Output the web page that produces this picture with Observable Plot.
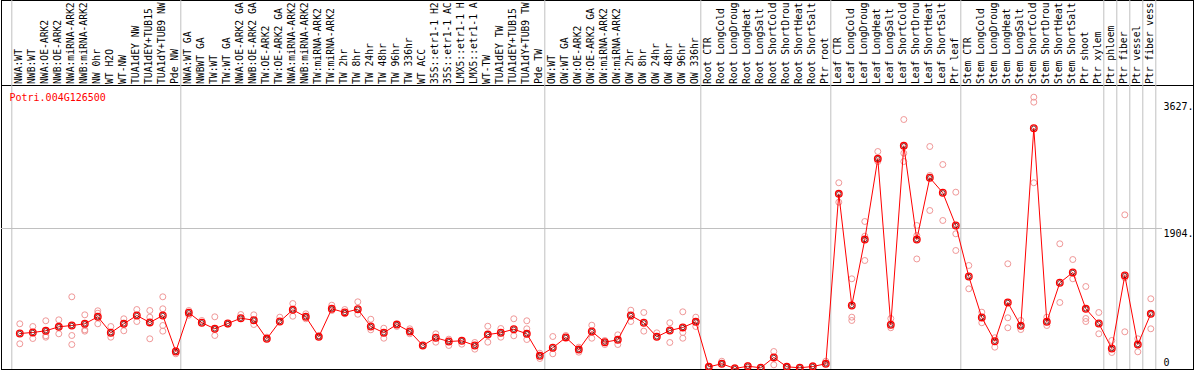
<!DOCTYPE html>
<html>
<head>
<meta charset="utf-8">
<script src="https://cdn.jsdelivr.net/npm/d3@7"></script>
<script src="https://cdn.jsdelivr.net/npm/@observablehq/plot@0.6"></script>
<style>
  html, body { margin: 0; padding: 0; background: #fff; }
  #chart svg { display: block; }
</style>
</head>
<body>
<div id="chart"></div>
<script>
const geneId = "Potri.004G126500";

// sample labels as they are visible (the reference cuts them at 14 characters)
const samples = [
  "NWA:WT","NWB:WT","NWA:OE-ARK2","NWB:OE-ARK2","NWA:miRNA-ARK2","NWB:miRNA-ARK2","NW 0hr","WT H2O","WT-NW","TUA1dEY NW","TUA1dEY+TUB15","TUA1dY+TUB9 NW","Pde NW",
  "NWA:WT GA","NWBWT GA","TW:WT","TW:WT GA","NWA:OE-ARK2 GA","NWB:OE-ARK2 GA","TW:OE-ARK2","TW:OE-ARK2 GA","NWA:miRNA-ARK2","NWB:miRNA-ARK2","TW:miRNA-ARK2","TW:miRNA-ARK2","TW 2hr","TW 8hr","TW 24hr","TW 48hr","TW 96hr","TW 336hr","WT ACC","35S::etr1-1 H2","35S::etr1-1 AC","LMX5::etr1-1 H","LMX5::etr1-1 A","WT-TW","TUA1dEY TW","TUA1dEY+TUB15","TUA1dY+TUB9 TW","Pde TW",
  "OW:WT","OW:WT GA","OW:OE-ARK2","OW:OE-ARK2 GA","OW:miRNA-ARK2","OW:miRNA-ARK2","OW 2hr","OW 8hr","OW 24hr","OW 48hr","OW 96hr","OW 336hr",
  "Root CTR","Root LongCold","Root LongDroug","Root LongHeat","Root LongSalt","Root ShortCold","Root ShortDrou","Root ShortHeat","Root ShortSalt","Ptr root",
  "Leaf CTR","Leaf LongCold","Leaf LongDroug","Leaf LongHeat","Leaf LongSalt","Leaf ShortCold","Leaf ShortDrou","Leaf ShortHeat","Leaf ShortSalt","Ptr leaf",
  "Stem CTR","Stem LongCold","Stem LongDroug","Stem LongHeat","Stem LongSalt","Stem ShortCold","Stem ShortDrou","Stem ShortHeat","Stem ShortSalt","Ptr shoot",
  "Ptr xylem","Ptr phloem","Ptr fiber","Ptr vessel","Ptr fiber vess"
];

// index where each separated block starts (plus the end)
const groupBreaks = [0, 13, 41, 53, 63, 73, 84, 85, 86, 87, 88];

const means = [
  476,490,513,567,585,608,703,486,608,721,626,721,231,
  758,622,540,612,684,657,404,639,798,703,431,812,762,806,571,486,598,503,313,418,367,377,313,462,486,534,472,173,
  282,422,258,503,358,390,721,622,431,517,558,635,
  23,64,0,31,10,150,23,10,27,64,
  2376,857,1754,2852,594,3029,1754,2594,2390,1945,
  1251,694,371,898,581,3268,635,1166,1306,812,
  612,272,1265,326,744
];

const replicates = [
  [608,336],[571,408],[649,445,426],[662,472],[975,449,326],[730,526,508],[785,752,608],[571,426],[676,513],[802,639],[789,698,404],[975,812,585,508],[200,245],
  [789,725],[653],[703,449],[602],[734],[730,598],[426],[698],[884,711],[744,676],[449],[861,789],[802,744],[907,738],[670,526],[548,412],[571],[540,472],[313],[472,358],[399,313],[331],[354,263],[575,358],[544,426],[676,445],[649,540,394],[208,136],
  [435,200],[449],[290,222],[589,412],[381,326],[458,326],[793,639],[762,508],[485],[622,354],[771,490,412],[698,571],
  [27],[99],[14],[41],[10],[231,50],[20],[10],[41],[99],
  [2526,2262],[1220,698,653],[1999,1799,1469],[2951,2815],[680,554],[3386,2928,2815],[1945,1809,1490],[3019,2625,2149],[2774,2013],[2398,1832,1605],
  [1401,1084],[766,622],[418,290],[1424,690,554],[653,530],[3690,3622,2526],[698,585],[1696,898],[1482,1220],[1115,680,639],
  [762,472],[381,218],[2090,1234,499],[404,227],[948,540]
];

const yTicks = [0, 1904, 3627];
const yTickLabels = ["0", "1904.", "3627."];
const yMax = 3808;

const meanData = means.map((v, i) => ({i, v}));
const repData = replicates.flatMap((arr, i) => arr.map(v => ({i, v})));
const font = "DejaVu Sans Mono";

const chart = Plot.plot({
  width: 1194,
  height: 370,
  marginTop: 85,
  marginBottom: 1,
  marginLeft: 1,
  marginRight: 1,
  style: {fontFamily: font, fontSize: "10px", background: "#fff", overflow: "hidden"},
  x: {type: "linear", domain: [0, samples.length - 1], range: [19.3, 1150.3], axis: null},
  y: {type: "linear", domain: [0, yMax], range: [368, 88], axis: null},
  marks: [
    Plot.frame({stroke: "black", insetTop: -85}),
    Plot.frame({stroke: "black"}),
    Plot.ruleX(groupBreaks, {x: d => d - 0.5, dx: -1.5, stroke: "#c0c0c0", strokeWidth: 1, insetTop: -85}),
    Plot.ruleY([yTicks[1]], {stroke: "#c0c0c0", strokeWidth: 1, insetRight: 31}),
    Plot.text(samples, {x: (d, i) => i, frameAnchor: "top", dy: -1.5, dx: -1, rotate: -90,
      textAnchor: "start", lineAnchor: "middle", fontFamily: font, fontSize: 9.7, fill: "black"}),
    Plot.text([geneId], {frameAnchor: "top-left", dx: 8, dy: 15, textAnchor: "start", lineAnchor: "bottom",
      fontFamily: font, fontSize: 10, fill: "#ff0000"}),
    Plot.text(yTicks.filter(d => d > 0), {y: d => d, text: d => yTickLabels[yTicks.indexOf(d)], frameAnchor: "right",
      dx: -30, dy: 1, textAnchor: "start", lineAnchor: "top", fontFamily: font, fontSize: 10, fill: "black"}),
    Plot.text(yTicks.filter(d => d === 0), {y: d => d, text: d => yTickLabels[yTicks.indexOf(d)], frameAnchor: "right",
      dx: -30, dy: -2.5, textAnchor: "start", lineAnchor: "bottom", fontFamily: font, fontSize: 10, fill: "black"}),
    Plot.dot(repData, {x: "i", y: "v", r: 3, stroke: "#f09898", strokeWidth: 1, fill: "none"}),
    Plot.line(meanData, {x: "i", y: "v", stroke: "#ff0000", strokeWidth: 1}),
    Plot.dot(meanData, {x: "i", y: "v", r: 3.3, stroke: "#ff0000", strokeWidth: 1.3, fill: "none"}),
    Plot.dot(meanData, {x: "i", y: "v", r: 2.2, stroke: "#600000", strokeWidth: 0.8, fill: "none"})
  ]
});
document.getElementById("chart").appendChild(chart);
</script>
</body>
</html>
